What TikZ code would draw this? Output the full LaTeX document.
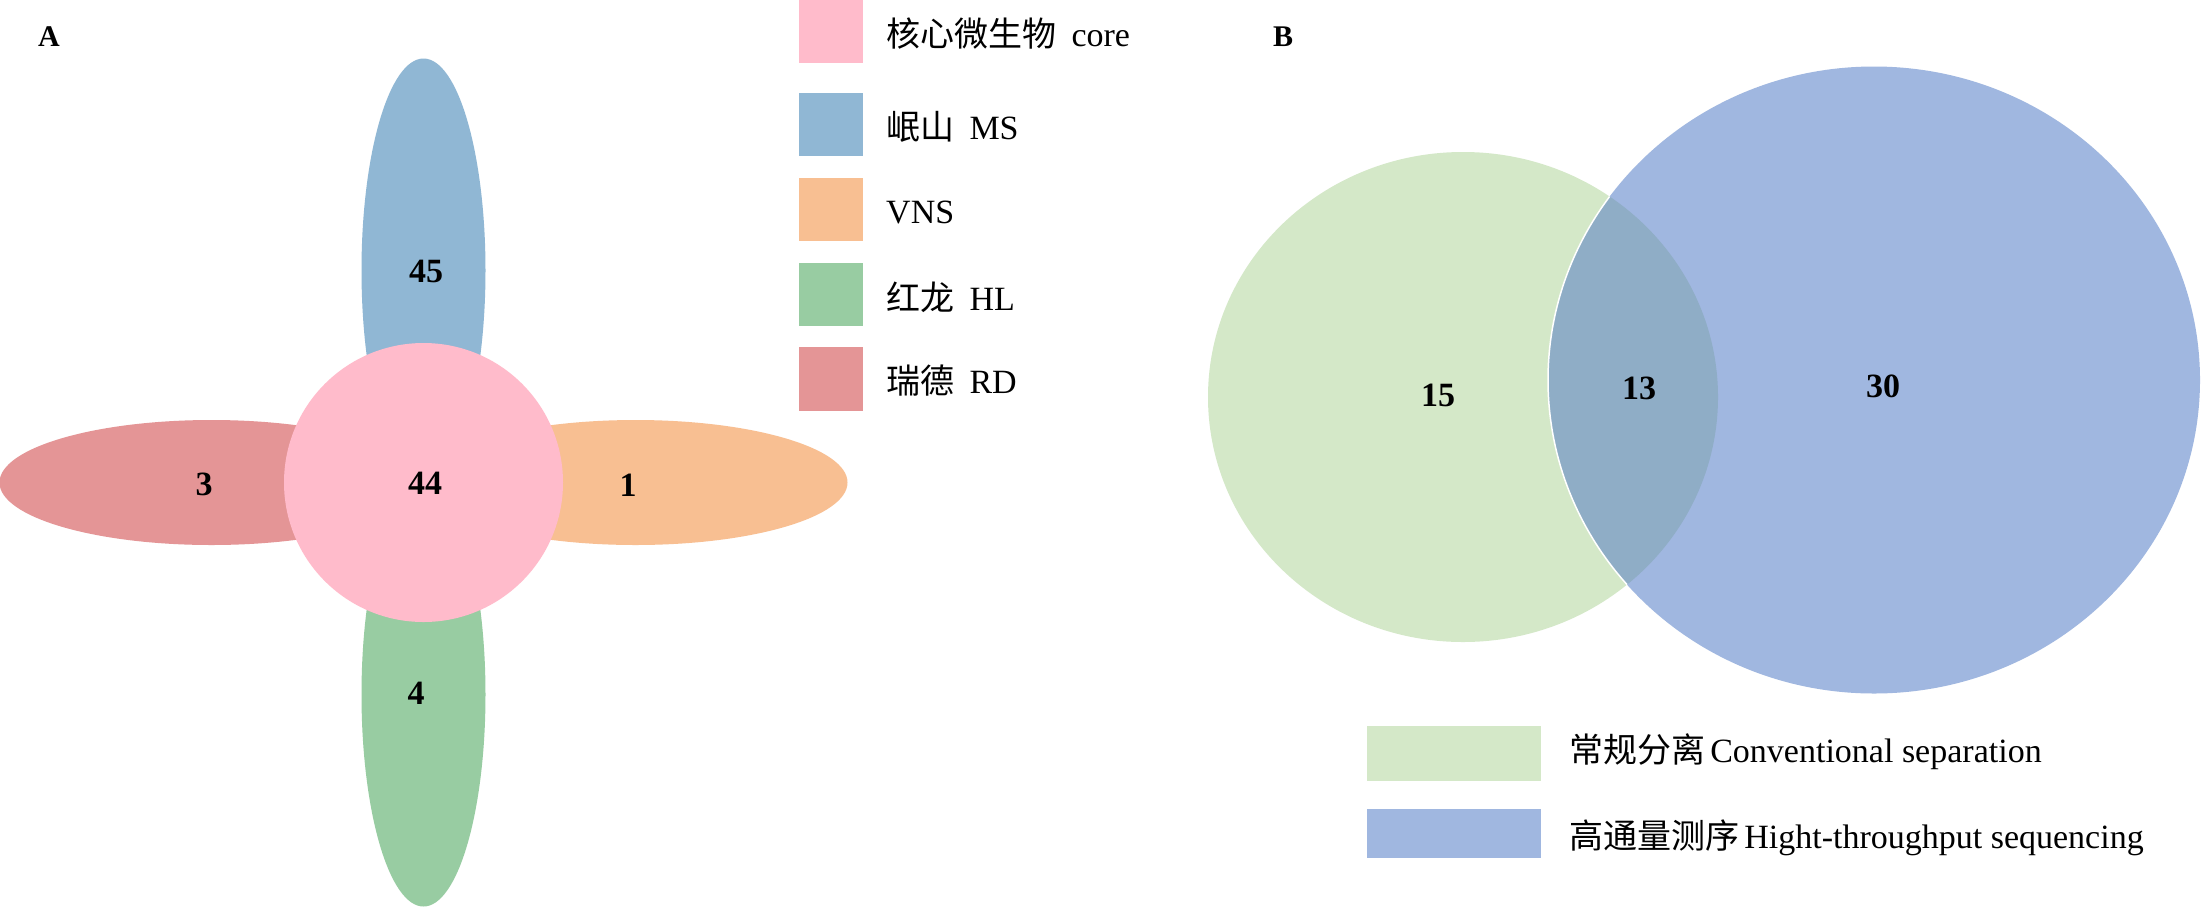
\documentclass[tikz,border=0pt]{standalone}
\usepackage{fontspec}
\setmainfont{Liberation Serif}
\newfontfamily\cjk{Noto Sans CJK SC}
\definecolor{corepink}{HTML}{FFBBCB}
\definecolor{msblue}{HTML}{90B7D4}
\definecolor{vnsorange}{HTML}{F8BF92}
\definecolor{hlgreen}{HTML}{98CCA2}
\definecolor{rdred}{HTML}{E49596}
\definecolor{convgreen}{HTML}{D4E8C8}
\definecolor{htsblue}{HTML}{A0B7E0}
\definecolor{lensblue}{HTML}{8FADC6}
\tikzset{
  num/.style={font=\fontsize{34}{40}\selectfont\bfseries, inner sep=0pt},
  panel/.style={font=\fontsize{30}{36}\selectfont\bfseries, inner sep=0pt},
  legtext/.style={font=\fontsize{34}{40}\selectfont, anchor=west, inner sep=0pt},
}
\begin{document}
\begin{tikzpicture}[x=1pt,y=-1pt]
\useasboundingbox[fill=white] (0,0) rectangle (2203,906);
% ---------- Panel A ----------
\fill[msblue]    (423.5,270.5) ellipse [x radius=62pt, y radius=212pt];
\fill[hlgreen]   (423.5,694.5) ellipse [x radius=62pt, y radius=212pt];
\fill[rdred]     (211.5,482.5) ellipse [x radius=212pt, y radius=62.5pt];
\fill[vnsorange] (635.5,482.5) ellipse [x radius=212pt, y radius=62.5pt];
\fill[corepink]  (423.5,482.5) circle [radius=139.5pt];
\node[panel] (labA) at (49,37) {A};
\node[num] (n45) at (426,271) {45};
\node[num] (n3)  at (204,484) {3};
\node[num] (n44) at (425,483) {44};
\node[num] (n1)  at (628,485) {1};
\node[num] (n4)  at (416,693) {4};
% legend A
\fill[corepink]  (799,0)   rectangle (863,63);
\fill[msblue]    (799,93)  rectangle (863,156);
\fill[vnsorange] (799,178) rectangle (863,241);
\fill[hlgreen]   (799,263) rectangle (863,326);
\fill[rdred]     (799,347) rectangle (863,411);
\node[legtext] (lcore) at (886,34)  {{\cjk 核心微生物}\hspace{0.45em}core};
\node[legtext] (lms)   at (886,127) {{\cjk 岷山}\hspace{0.45em}MS};
\node[legtext] (lvns)  at (886,212) {VNS};
\node[legtext] (lhl)   at (886,297) {{\cjk 红龙}\hspace{0.45em}HL};
\node[legtext] (lrd)   at (886,381) {{\cjk 瑞德}\hspace{0.45em}RD};
% ---------- Panel B ----------
\node[panel] (labB) at (1283,37) {B};
\fill[convgreen] (1463,397) ellipse [x radius=255pt, y radius=245pt];
\fill[htsblue]   (1874,380) ellipse [x radius=326pt, y radius=313.5pt];
\begin{scope}
  \clip (1463,397) ellipse [x radius=255pt, y radius=245pt];
  \fill[lensblue] (1874,380) ellipse [x radius=326pt, y radius=313.5pt];
  \draw[white, line width=1.5pt] (1874,380) ellipse [x radius=326pt, y radius=313.5pt];
\end{scope}
\node[num] (n15) at (1438,395) {15};
\node[num] (n13) at (1639,388) {13};
\node[num] (n30) at (1883,386) {30};
% legend B
\fill[convgreen] (1367,726) rectangle (1541,781);
\fill[htsblue]   (1367,809) rectangle (1541,858);
\node[legtext] (lconv) at (1569,752) {{\cjk 常规分离}\hspace{0.15em}Conventional separation};
\node[legtext] (lhts)  at (1569,838) {{\cjk 高通量测序}\hspace{0.15em}Hight-throughput sequencing};
\end{tikzpicture}
\end{document}
